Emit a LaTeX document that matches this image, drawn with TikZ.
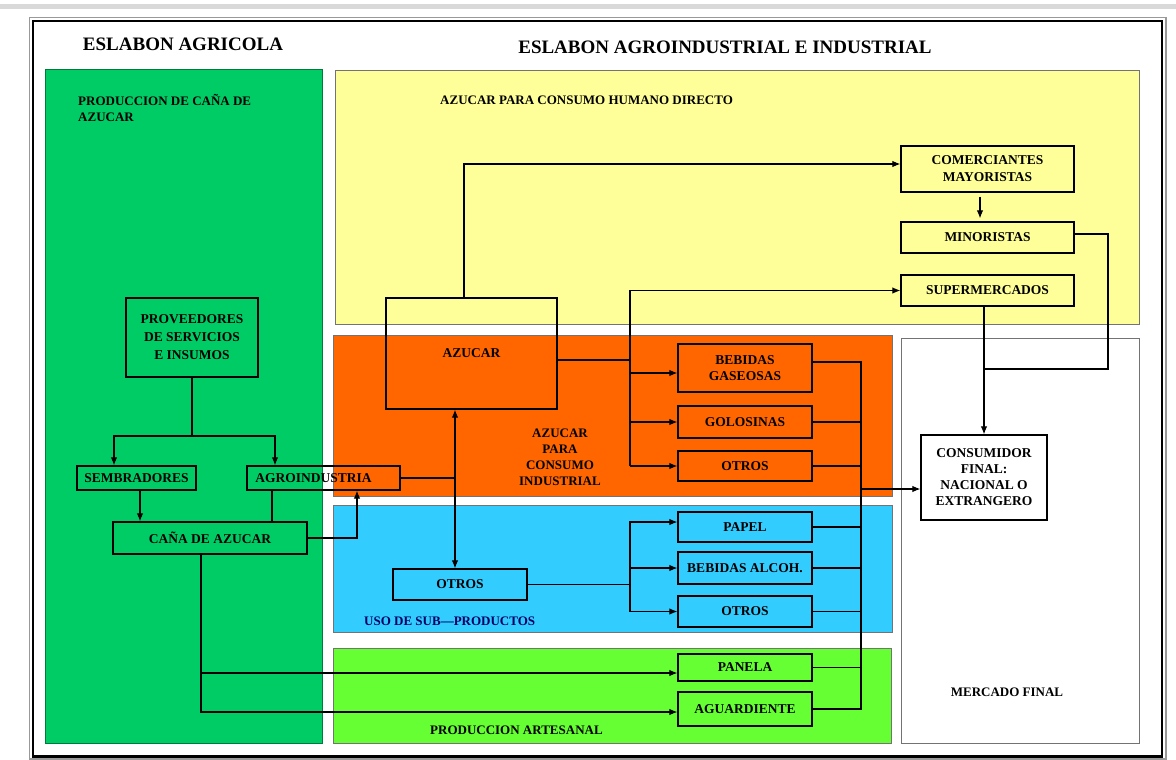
\documentclass[tikz,border=0pt]{standalone}
\usepackage{fontspec}
\setmainfont{Liberation Serif}
\usetikzlibrary{arrows.meta,calc}
\definecolor{dgreen}{HTML}{00CC66}
\definecolor{yel}{HTML}{FFFF99}
\definecolor{orng}{HTML}{FF6600}
\definecolor{sky}{HTML}{33CCFF}
\definecolor{lgreen}{HTML}{66FF33}
\definecolor{navy}{HTML}{000066}
\newcommand\lblfont{\fontsize{13.5}{17}\selectfont\bfseries}
\newcommand\ptxtfont{\fontsize{13}{15.5}\selectfont\bfseries}
\newcommand\ttlfont{\fontsize{19}{22}\selectfont\bfseries}
\tikzset{
 panel/.style={draw=black!55, line width=0.8pt},
 box/.style={draw=black, line width=1.3pt, inner sep=0pt, align=center, font=\lblfont},
 ln/.style={line width=1.1pt, draw=black},
 arr/.style={ln, -{Latex[length=8pt,width=6.5pt]}},
 darr/.style={ln, {Latex[length=8pt,width=6.5pt]}-{Latex[length=8pt,width=6.5pt]}},
 txt/.style={inner sep=0pt, font=\ptxtfont, align=left},
}
\begin{document}
\begin{tikzpicture}[x=1pt,y=-1pt]
\useasboundingbox (0,0) rectangle (1176,760);
\fill[white] (0,0) rectangle (1176,760);
\fill[black!15] (0,4) rectangle (1176,9);
% frame
\draw[black!40, line width=1.5pt] (29.5,17.5) rectangle (1166,759);
\draw[black, line width=2.5pt] (33,21) rectangle (1162,756.5);
% panels
\filldraw[draw=dgreen!60!black, line width=0.8pt, fill=dgreen] (45,69) rectangle (322,743);
\filldraw[panel, fill=yel] (335,70) rectangle (1139,324);
\filldraw[panel, fill=orng] (333,335) rectangle (892,496);
\filldraw[panel, fill=sky] (333,505) rectangle (892,632);
\filldraw[panel, fill=lgreen] (333,648) rectangle (891,743);
\draw[panel] (901,338) rectangle (1139,743);
% titles and panel texts
\node[font=\ttlfont, inner sep=0pt] (t1) at (183,44) {ESLABON AGRICOLA};
\node[font=\ttlfont, inner sep=0pt] (t2) at (725,47) {ESLABON AGROINDUSTRIAL E INDUSTRIAL};
\node[txt, anchor=west] (pcana) at (78,108) {PRODUCCION DE CAÑA DE\\AZUCAR};
\node[txt, anchor=west] (ahum) at (440,100) {AZUCAR PARA CONSUMO HUMANO DIRECTO};
\node[txt, align=center, font=\fontsize{13}{16}\selectfont\bfseries] (aind) at (560,457) {AZUCAR\\PARA\\CONSUMO\\INDUSTRIAL};
\node[txt, anchor=west, text=navy] (uso) at (364,621) {USO DE SUB—PRODUCTOS};
\node[txt, anchor=west] (part) at (430,730) {PRODUCCION ARTESANAL};
\node[txt] (merc) at (1007,692) {MERCADO FINAL};
% boxes
\node[box, minimum width=132pt, minimum height=79pt, font=\fontsize{13.5}{18}\selectfont\bfseries] (prov) at (192,337.5) {PROVEEDORES\\DE SERVICIOS\\E INSUMOS};
\node[box, minimum width=119pt, minimum height=24pt] (semb) at (136.5,478) {SEMBRADORES};
\node[box, minimum width=153pt, minimum height=24pt] (agro) at (323.5,478) {AGROINDUSTRIA\hspace*{20pt}};
\node[box, minimum width=194pt, minimum height=32pt] (cana) at (210,538) {CAÑA DE AZUCAR};
\node[box, minimum width=171pt, minimum height=111pt] (azu) at (471.5,353.5) {AZUCAR};
\node[box, minimum width=173pt, minimum height=46pt] (com) at (987.5,169) {COMERCIANTES\\MAYORISTAS};
\node[box, minimum width=173pt, minimum height=31pt] (mino) at (987.5,237.5) {MINORISTAS};
\node[box, minimum width=173pt, minimum height=31pt] (sup) at (987.5,290.5) {SUPERMERCADOS};
\node[box, minimum width=134pt, minimum height=48pt, font=\fontsize{13.5}{15.5}\selectfont\bfseries] (bebg) at (745,368) {BEBIDAS\\GASEOSAS};
\node[box, minimum width=134pt, minimum height=32pt] (golo) at (745,422) {GOLOSINAS};
\node[box, minimum width=134pt, minimum height=30pt] (otr1) at (745,466) {OTROS};
\node[box, minimum width=134pt, minimum height=30pt] (pap) at (745,527) {PAPEL};
\node[box, minimum width=134pt, minimum height=32pt] (beba) at (745,568) {BEBIDAS ALCOH.};
\node[box, minimum width=134pt, minimum height=31pt] (otr2) at (745,611.5) {OTROS};
\node[box, minimum width=134pt, minimum height=31pt] (otr3) at (460,584.5) {OTROS};
\node[box, minimum width=134pt, minimum height=27pt] (pan) at (745,667.5) {PANELA};
\node[box, minimum width=134pt, minimum height=34pt] (agu) at (745,709) {AGUARDIENTE};
\node[box, minimum width=126pt, minimum height=85pt, font=\fontsize{13.5}{16}\selectfont\bfseries] (cons) at (984,477.5) {CONSUMIDOR\\FINAL:\\NACIONAL O\\EXTRANGERO};
% helper coordinates
\coordinate (ly) at (0,436);
\coordinate (bus) at (630,0);
\coordinate (rc) at (861,0);
\coordinate (mx) at (1108,369);
\coordinate (s1) at ([xshift=3.5pt]semb.south);
\coordinate (a1) at ([xshift=-51.5pt]agro.south);
\coordinate (vx) at ([xshift=-16.5pt]azu.south);
\coordinate (vt) at ([xshift=-7.5pt]azu.north);
\coordinate (ae) at ([yshift=-6.5pt]azu.east);
\coordinate (bg) at ([yshift=-5pt]bebg.west);
\coordinate (pp) at ([yshift=5pt]pap.west);
\coordinate (be) at ([yshift=6pt]bebg.east);
\coordinate (ci) at ([yshift=-11.5pt]cons.west);
\coordinate (me) at ([yshift=3.5pt]mino.east);
\coordinate (cb) at ([xshift=-9pt]cana.south);
\coordinate (pin) at ([yshift=-5.5pt]pan.west);
\coordinate (gin) at ([yshift=-3pt]agu.west);
% agricultural links
\draw[ln] (prov.south) -- (prov.south |- ly);
\draw[arr] (prov.south |- ly) -| ([xshift=-22.5pt]semb.north);
\draw[arr] (prov.south |- ly) -| ([xshift=-48.5pt]agro.north);
\draw[arr] (s1) -- (s1 |- cana.north);
\draw[ln] (a1) -- (a1 |- cana.north);
\draw[arr] (cana.east) -| ([xshift=33.5pt]agro.south);
\draw[darr] (vx) -- (vx |- otr3.north);
\draw[ln] (agro.east) -- (agro.east -| vx);
% azucar links
\draw[arr] (vt) |- ([yshift=5pt]com.west);
\draw[arr, shorten <=4pt, shorten >=3pt] ([xshift=-7.5pt]com.south) -- ([xshift=-7.5pt]mino.north);
\draw[ln] (ae) -- (ae -| bus);
\draw[arr] (otr1.west -| bus) |- (sup.west);
\draw[arr] (bg -| bus) -- (bg);
\draw[arr] (golo.west -| bus) -- (golo.west);
\draw[arr] (otr1.west -| bus) -- (otr1.west);
% sub-products
\draw[ln] (otr3.east) -- (otr3.east -| bus);
\draw[arr] (otr2.west -| bus) |- (pp);
\draw[arr] (otr2.west -| bus) -- (otr2.west);
\draw[arr] (beba.west -| bus) -- (beba.west);
% artisanal
\draw[arr] (cb) |- (gin);
\draw[arr] (cb |- pin) -- (pin);
% collector to final consumer
\draw[ln] (be) -- (be -| rc) -- (agu.east -| rc) -- (agu.east);
\foreach \n in {golo,otr1,pap,beba,otr2,pan} \draw[ln] (\n.east) -- (\n.east -| rc);
\draw[arr] (ci -| rc) -- (ci);
% retail to final consumer
\draw[ln] (me) -| (mx) -- (mx -| cons.north);
\draw[arr] (sup.south -| cons.north) -- (cons.north);
\end{tikzpicture}
\end{document}
